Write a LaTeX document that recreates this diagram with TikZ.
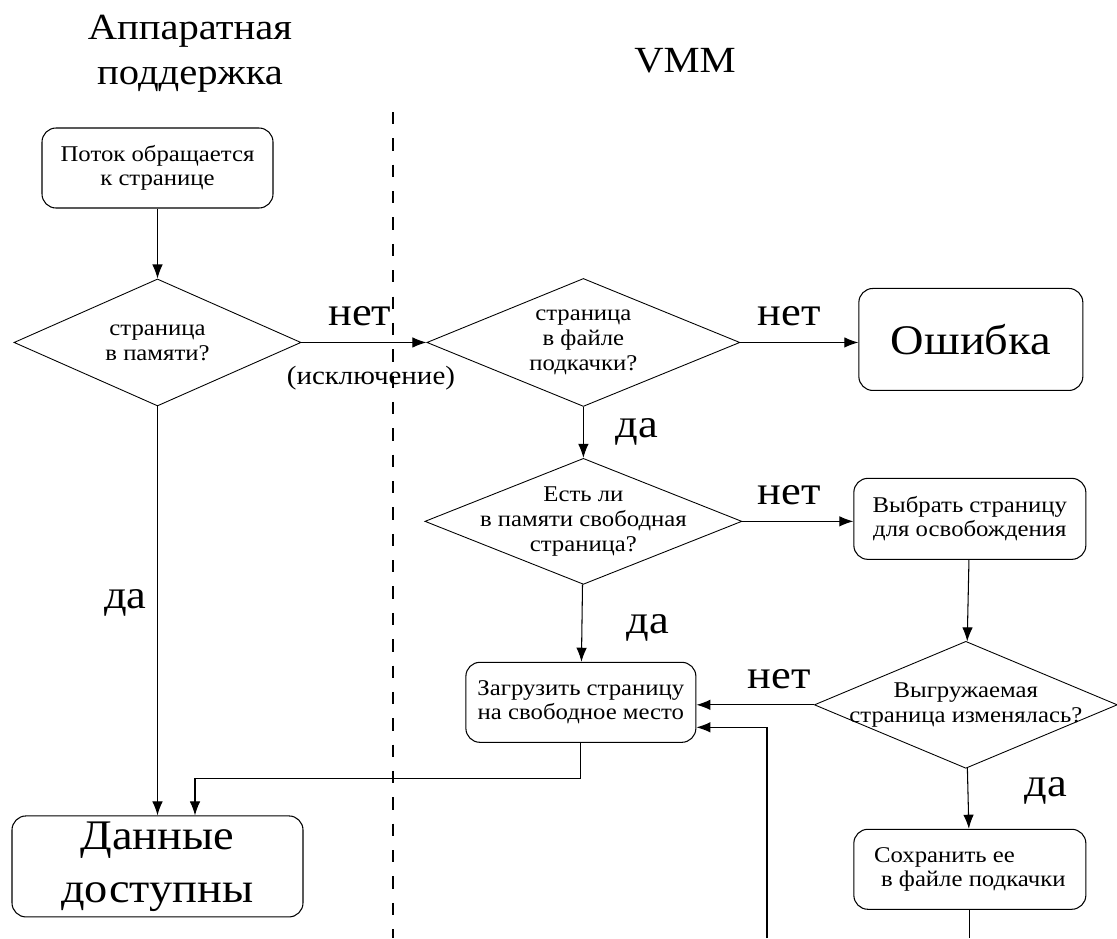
\documentclass[tikz,border=0pt]{standalone}
\usepackage{fontspec}
\setmainfont{Liberation Serif}[FakeStretch=1.1]
\usepackage{tikz}
\usetikzlibrary{shapes.geometric,arrows.meta,positioning}
\tikzset{
  pf_box/.style={
    draw, rectangle, rounded corners=8pt, line width=0.6pt,
    minimum width=4.62cm, minimum height=1.6cm,
    align=center, inner sep=2pt, font=\fontsize{12.8}{13.9}\selectfont
  },
  pf_big/.style={
    pf_box, font=\fontsize{24}{30}\selectfont
  },
  pf_dec/.style={
    draw, diamond, line width=0.5pt, aspect=2.3,
    align=center, inner sep=-10pt, font=\fontsize{12.8}{14.2}\selectfont
  },
  pf_arr/.style={-{Latex[length=8pt,width=6pt]}, line width=0.6pt},
  pf_lbl/.style={inner sep=1pt, font=\fontsize{23}{25}\selectfont},
  pf_exc/.style={inner sep=1pt, font=\fontsize{15}{17}\selectfont},
  pf_head/.style={align=center, font=\fontsize{21}{25.6}\selectfont},
}

\begin{document}
\begin{tikzpicture}
\useasboundingbox (0,0) rectangle (22.34,-18.76);

% Column titles
\node[pf_head] (hwhead)  at (3.80,-1.08)  {Аппаратная\\поддержка};
\node[pf_head] (vmmhead) at (13.70,-1.22) {VMM};

% Hardware side
\node[pf_box] (access) at (3.15,-3.36) {Поток обращается\\к странице};
\node[pf_dec, minimum width=5.74cm, minimum height=2.54cm,
      below=1.4cm of access]  (inmem) {страница\\в памяти?};
\node[pf_big, minimum width=5.82cm, minimum height=2.02cm,
      below=8.18cm of inmem]  (data)  {Данные\\доступны};

% VMM side
\node[pf_dec, minimum width=6.26cm, minimum height=2.56cm,
      right=2.5cm of inmem]   (inswap)  {страница\\в файле\\подкачки?};
\node[pf_big, minimum width=4.48cm, minimum height=2.04cm,
      right=2.36cm of inswap, yshift=0.06cm] (err) {Ошибка};
\node[pf_dec, minimum width=6.34cm, minimum height=2.52cm,
      below=1.02cm of inswap] (hasfree) {Есть ли\\в памяти свободная\\страница?};
\node[pf_box, minimum width=4.64cm, minimum height=1.62cm,
      right=2.22cm of hasfree, yshift=0.05cm] (choose) {Выбрать страницу\\для освобождения};
\node[pf_box, minimum width=4.6cm,
      below=1.54cm of hasfree, xshift=-0.05cm] (load) {Загрузить страницу\\на свободное место};
\node[pf_dec, minimum width=6.06cm, minimum height=2.54cm,
      below=1.62cm of choose, xshift=-0.08cm] (dirty) {Выгружаемая\\страница изменялась?};
\node[pf_box, minimum width=4.64cm, align=left,
      below=1.2cm of dirty, xshift=0.08cm] (save) {Сохранить ее\\\hspace*{4pt}в файле подкачки};

\coordinate (bot1) at (15.34,-18.76);

% Main flow arrows
\draw[pf_arr] (access) -- (inmem);
\draw[pf_arr] (inmem.east) --
     node[pf_lbl, above=8pt, xshift=-0.08cm] {нет}
     node[pf_exc, below=12pt, xshift=0.14cm] {(исключение)} (inswap.west);
\draw[pf_arr] (inmem) -- node[pf_lbl, left=5pt, pos=0.48] {да} (data);
\draw[pf_arr] (inswap.east) -- node[pf_lbl, above=8pt, xshift=-0.2cm] {нет} (inswap.east -| err.west);
\draw[pf_arr] (inswap) -- node[pf_lbl, right=17pt] {да} (hasfree);
\draw[pf_arr] (hasfree.east) -- node[pf_lbl, above=8pt, xshift=-0.17cm] {нет} (hasfree.east -| choose.west);
\draw[pf_arr] (hasfree) -- node[pf_lbl, right=24pt, pos=0.56] {да} (load);
\draw[pf_arr] (choose) -- (dirty);
\draw[pf_arr] (dirty.west) -- node[pf_lbl, above=8pt, xshift=0.48cm] {нет} (dirty.west -| load.east);
\draw[pf_arr] (dirty) -- node[pf_lbl, right=31pt, pos=0.38] {да} (save);

% Loaded page back to the data
\draw[pf_arr] (load.south) -- ++(0,-0.72) -| ([xshift=0.75cm]data.north);

% Return from below (cut at the bottom edge)
\draw[pf_arr] (bot1) |- ([yshift=-0.5cm]load.east);
\draw[line width=0.6pt] (save.south) -- (save.south |- bot1);

% Hardware / VMM divider
\draw[line width=1.6pt, dash pattern=on 7pt off 8pt] (7.86,-2.24) -- (7.86,-18.76);

\end{tikzpicture}
\end{document}
